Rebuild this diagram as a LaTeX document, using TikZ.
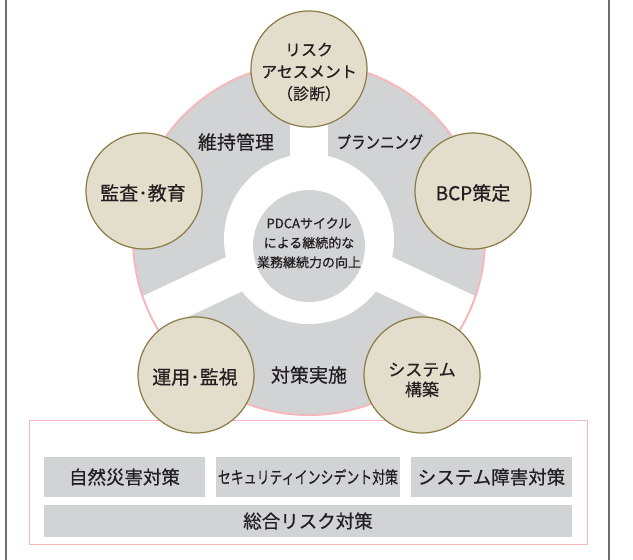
\documentclass[tikz,border=0pt]{standalone}
\usepackage{fontspec}
\setmainfont{Noto Sans CJK JP}[FakeBold=0.6]
\definecolor{ringgray}{HTML}{D1D3D4}
\definecolor{pinkline}{HTML}{F6B9BB}
\definecolor{beige}{HTML}{E3DDCB}
\definecolor{olive}{HTML}{8C7B45}
\definecolor{txt}{HTML}{231F20}
\definecolor{framegray}{HTML}{6E6E6E}
\begin{document}
\begin{tikzpicture}[x=1pt,y=-1pt,
  stage/.style={circle, fill=beige, draw=olive, line width=1.2pt, minimum size=116pt, inner sep=0pt},
  lbl/.style={text=txt, font=\fontsize{19}{22}\selectfont, inner sep=0pt, align=center},
  cbox/.style={fill=ringgray, inner sep=0pt, text=txt, font=\fontsize{18.5}{22}\selectfont},
  bar/.style={white, line width=38pt}
]
\useasboundingbox (0,0) rectangle (633,560);
\fill[white] (0,0) rectangle (633,560);
\coordinate (c) at (309,239);
% ring
\fill[ringgray] (c) circle[radius=176pt];
\begin{scope}
  \clip (c) circle[radius=176pt];
  \draw[bar] (c) -- ++(0,-200);
  \draw[bar] (c) -- ++(-181,85);
  \draw[bar] (c) -- ++(181,85);
\end{scope}
\fill[white] (c) circle[radius=85pt];
\node[circle, fill=ringgray, minimum size=112pt, inner sep=0pt] (core) at (309,246) {};
\node[text=txt, font=\fontsize{13}{19.5}\selectfont, align=center, inner sep=0pt] (coretext) at (309,243) {PDCAサイクル\\による継続的な\\業務継続力の向上};
\draw[pinkline, line width=2pt] (c) circle[radius=176pt];
% lower pink box
\draw[pinkline, line width=1pt] (29,420) rectangle (587,544);
% frame
\draw[framegray, line width=2.5pt] (6,0) -- (6,560);
\draw[framegray, line width=2.5pt] (609,0) -- (609,560);
% stage circles
\node[stage] (risk) at (309,69) {};
\node[stage] (audit) at (144,191) {};
\node[stage] (bcp) at (473,191) {};
\node[stage] (ops) at (196,375) {};
\node[stage] (sys) at (422,375) {};
% labels
\node[lbl, font=\fontsize{16}{22}\selectfont] (risktext) at (309,72) {リスク\\アセスメント\\（診断）};
\node[lbl] (audittext) at (143,193) {監査･教育};
\node[lbl] (bcptext) at (473,193) {BCP策定};
\node[lbl] (opstext) at (195,377) {運用･監視};
\node[lbl, font=\fontsize{17}{20}\selectfont] (systext) at (422,380) {システム\\構築};
\node[lbl] (maint) at (236,142) {維持管理};
\node[lbl, font=\fontsize{17}{20}\selectfont] (plan) at (380,142) {\scalebox{0.85}[1]{プランニング}};
\node[lbl] (impl) at (309,375) {対策実施};
% bottom boxes
\node[cbox, minimum width=161pt, minimum height=40pt] (b1) at (124.5,477) {自然災害対策};
\node[cbox, minimum width=184pt, minimum height=40pt, font=\fontsize{17}{20}\selectfont] (b2) at (308,477) {\scalebox{0.76}[1]{セキュリティインシデント対策}};
\node[cbox, minimum width=161pt, minimum height=40pt] (b3) at (491.5,477) {システム障害対策};
\node[cbox, minimum width=528pt, minimum height=32pt] (b4) at (308,521) {総合リスク対策};
\end{tikzpicture}
\end{document}
